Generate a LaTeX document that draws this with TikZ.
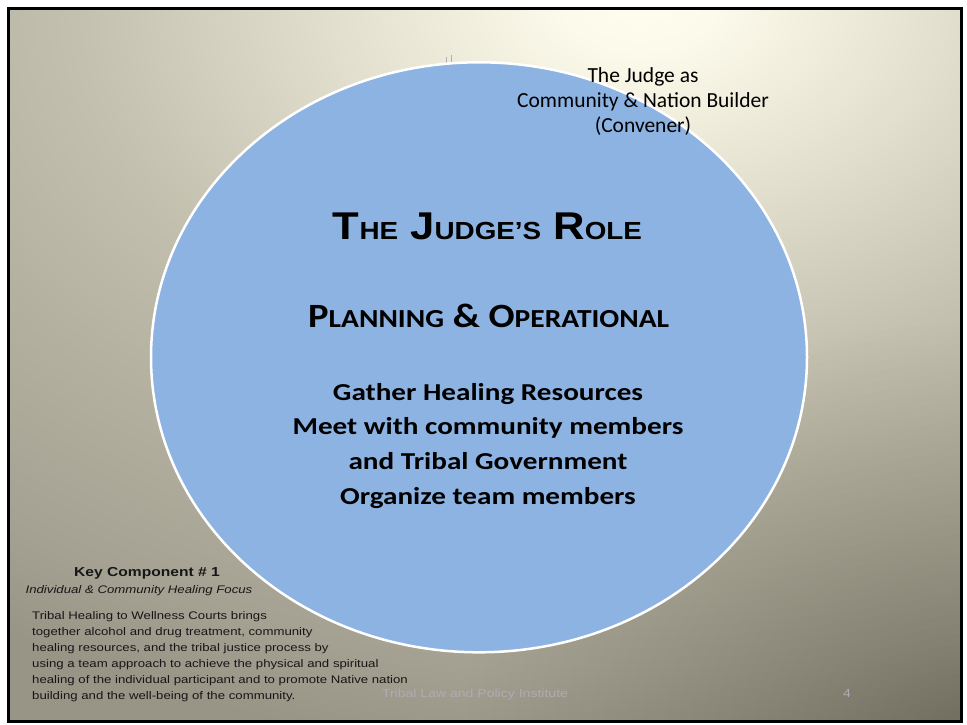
\documentclass[tikz,border=0pt]{standalone}
\usepackage{fontspec}
\usepackage{graphicx}
\setmainfont{Carlito}
\newfontfamily\arialf{Liberation Sans}
\newfontfamily\arialst{Liberation Sans}[FakeStretch=1.2]
\newfontfamily\carlst{Carlito}[FakeStretch=1.2]
\definecolor{bubblefill}{RGB}{141,179,226}
\definecolor{txtdark}{RGB}{22,22,22}
\definecolor{footgray}{RGB}{172,173,180}
\definecolor{markgray}{RGB}{175,175,175}
\definecolor{vignette}{RGB}{40,38,30}
\definecolor{bgbase}{RGB}{152,149,134}
\pgfdeclareradialshading{bgrad}{\pgfpoint{0bp}{0bp}}{%
  rgb(0bp)=(1,0.992,0.933);
  rgb(0.81bp)=(0.988,0.980,0.918);
  rgb(3.19bp)=(0.886,0.875,0.808);
  rgb(5.78bp)=(0.769,0.757,0.690);
  rgb(6.25bp)=(0.753,0.741,0.675);
  rgb(7.75bp)=(0.710,0.698,0.635);
  rgb(10.52bp)=(0.643,0.631,0.573);
  rgb(11.88bp)=(0.596,0.584,0.525);
  rgb(25bp)=(0.596,0.584,0.525)}
\newcommand\TSc[1]{{\fontsize{24.7}{30}\selectfont #1}}
\newcommand\PSc[1]{{\fontsize{26}{30}\selectfont #1}}
\begin{document}
\begin{tikzpicture}[x=1pt,y=-1pt,
  bubble/.style={fill=bubblefill, draw=white, line width=2.5pt},
  lbl/.style={font=\fontsize{21.5}{25}\selectfont, text=black, inner sep=0, anchor=base},
  body/.style={font=\carlst\bfseries\fontsize{24.3}{35}\selectfont, text=black, inner sep=0, anchor=base},
  para/.style={font=\arialst\fontsize{11}{16}\selectfont, text=txtdark, inner sep=0, anchor=base west},
  foot/.style={font=\arialst\fontsize{11.7}{14}\selectfont, text=footgray, inner sep=0, anchor=base}]
\useasboundingbox (0,0) rectangle (967,724);
\fill[white] (0,0) rectangle (967,724);
% background
\begin{scope}
  \clip (8,8) rectangle (962,722);
  \fill[bgbase] (8,8) rectangle (962,722);
  \shade[shading=bgrad] (-1760,-1600) rectangle (3040,1600);
  \foreach \k in {1,...,40} {
    \fill[vignette, fill opacity=0.0025] (967,724) ellipse [x radius={12.5*\k}, y radius={10*\k}];
  }
\end{scope}
\draw[black, line width=3pt] (8.5,8.5) rectangle (961.5,721.5);
% tiny marks
\draw[markgray, line width=0.8pt] (446,57) -- (446,63);
\draw[markgray, line width=0.8pt] (451,55) -- (451,63);
% main ellipse
\draw[bubble] (479,357.3) ellipse [x radius=328, y radius=295];
% top right label
\node[lbl] (l1) at (643,82) {The Judge as};
\node[lbl] (l2) at (643,107) {Community \& Nation Builder};
\node[lbl] (l3) at (643,132.5) {(Convener)};
% title
\node[inner sep=0, anchor=base] (title) at (487.5,239)
  {\resizebox{309pt}{\height}{\arialf\bfseries\fontsize{38.7}{40}\selectfont T\TSc{HE} J\TSc{UDGE’S} R\TSc{OLE}}};
\node[inner sep=0, anchor=base] (plan) at (488.7,327)
  {\resizebox{361pt}{\height}{\bfseries\fontsize{34}{40}\selectfont P\PSc{LANNING} \& O\PSc{PERATIONAL}}};
% body
\node[body] (b1) at (488,400.5) {Gather Healing Resources};
\node[body] (b2) at (488,434.5) {Meet with community members};
\node[body] (b3) at (488,469.5) {and Tribal Government};
\node[body] (b4) at (488,504.5) {Organize team members};
% key component
\node[font=\arialst\bfseries\fontsize{13}{16}\selectfont, text=txtdark, inner sep=0, anchor=base] (key) at (147,576) {Key Component \# 1};
\node[font=\arialst\itshape\fontsize{11}{16}\selectfont, text=txtdark, inner sep=0, anchor=base] (focus) at (139,593) {Individual \& Community Healing Focus};
\node[para] (p1) at (32,619) {Tribal Healing to Wellness Courts brings};
\node[para] (p2) at (32,635) {together alcohol and drug treatment, community};
\node[para] (p3) at (32,651) {healing resources, and the tribal justice process by};
\node[para] (p4) at (32,667) {using a team approach to achieve the physical and spiritual};
\node[para] (p5) at (32,683) {healing of the individual participant and to promote Native nation};
\node[para] (p6) at (32,699) {building and the well-being of the community.};
% footer
\node[foot] (footer) at (475,697.5) {Tribal Law and Policy Institute};
\node[foot] (pagenum) at (847,697.5) {4};
\end{tikzpicture}
\end{document}
